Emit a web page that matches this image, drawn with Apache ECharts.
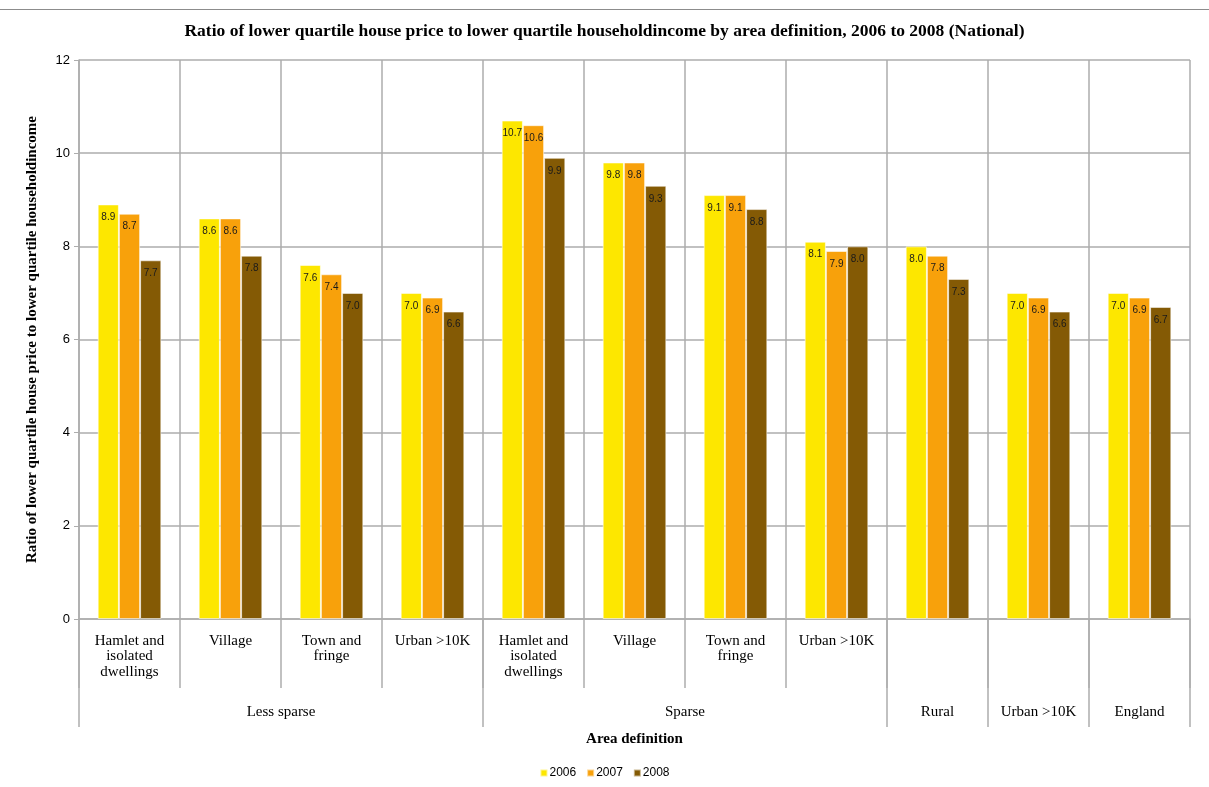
<!DOCTYPE html>
<html>
<head>
<meta charset="utf-8">
<script src="https://cdn.jsdelivr.net/npm/echarts@6/dist/echarts.min.js"></script>
<style>
  html, body { margin: 0; padding: 0; background: #fff; }
  #chart { width: 1209px; height: 787px; }
  #rule { position: absolute; left: 0; top: 9px; width: 1209px; height: 0; border-top: 1px solid #8c8c8c; }
</style>
</head>
<body>
<div id="rule"></div>
<div id="chart"></div>
<script>
// Area types (first label row) and their parent definitions (second row)
const subLabels = [
  'Hamlet and\nisolated\ndwellings', 'Village', 'Town and\nfringe', 'Urban >10K',
  'Hamlet and\nisolated\ndwellings', 'Village', 'Town and\nfringe', 'Urban >10K',
  '', '', ''
];
const groupLabels = ['Less sparse', 'Sparse', 'Rural', 'Urban >10K', 'England'];
const groupSizes = [4, 4, 1, 1, 1];

const seriesNames = ['2006', '2007', '2008'];
const values2006 = [8.9, 8.6, 7.6, 7.0, 10.7, 9.8, 9.1, 8.1, 8.0, 7.0, 7.0];
const values2007 = [8.7, 8.6, 7.4, 6.9, 10.6, 9.8, 9.1, 7.9, 7.8, 6.9, 6.9];
const values2008 = [7.7, 7.8, 7.0, 6.6, 9.9, 9.3, 8.8, 8.0, 7.3, 6.6, 6.7];
const yTicks = [0, 2, 4, 6, 8, 10, 12];

const colors = ['#FDE700', '#F8A10B', '#845A05'];
const gridColor = '#adadad';
const serif = '"Liberation Serif", "DejaVu Serif", serif';
const sans = '"Liberation Sans", Arial, sans-serif';

const chart = echarts.init(document.getElementById('chart'), null, { renderer: 'canvas' });

function barSeries(name, data, color) {
  return {
    name: name,
    type: 'bar',
    data: data,
    barGap: 0,
    barCategoryGap: '37%',
    itemStyle: { color: color, borderColor: 'rgba(255,255,255,0.55)', borderWidth: 1 },
    label: {
      show: true,
      position: 'insideTop',
      distance: 8,
      fontSize: 10,
      fontFamily: sans,
      color: '#1a1a1a',
      formatter: p => p.value.toFixed(1)
    }
  };
}

chart.setOption({
  animation: false,
  color: colors,
  title: {
    text: 'Ratio of lower quartile house price to lower quartile householdincome by area definition, 2006 to 2008 (National)',
    left: 'center',
    top: 17,
    textStyle: { fontFamily: serif, fontWeight: 'bold', fontSize: 17.5, color: '#000' }
  },
  legend: {
    bottom: 3,
    left: 'center',
    icon: 'rect',
    itemWidth: 7,
    itemHeight: 7,
    itemGap: 10,
    textStyle: { fontFamily: sans, fontSize: 12, color: '#000', padding: [0, 0, 0, -3] },
    data: seriesNames
  },
  grid: { left: 79, right: 19, top: 60, bottom: 168, containLabel: false },
  xAxis: {
    type: 'category',
    data: subLabels.map((_, i) => 'c' + i),
    boundaryGap: true,
    name: 'Area definition',
    nameLocation: 'middle',
    nameGap: 113,
    nameTextStyle: { fontFamily: serif, fontWeight: 'bold', fontSize: 15, color: '#000' },
    axisLine: { show: true, lineStyle: { color: gridColor, width: 1.5 } },
    axisTick: { show: true, interval: 0, length: 69, lineStyle: { color: gridColor, width: 1.5 } },
    axisLabel: {
      interval: 0,
      margin: 14,
      fontFamily: serif,
      fontSize: 15,
      lineHeight: 15.5,
      color: '#000',
      formatter: (v, i) => subLabels[i]
    },
    splitLine: { show: true, interval: 0, lineStyle: { color: gridColor, width: 1.5 } }
  },
  yAxis: {
    type: 'value',
    min: yTicks[0],
    max: yTicks[yTicks.length - 1],
    interval: 2,
    name: 'Ratio of lower quartile house price to lower quartile householdincome',
    nameLocation: 'middle',
    nameGap: 39,
    nameTextStyle: { fontFamily: serif, fontWeight: 'bold', fontSize: 15, color: '#000' },
    axisLine: { show: true, lineStyle: { color: gridColor, width: 1.5 } },
    axisTick: { show: true, length: 5, lineStyle: { color: gridColor } },
    axisLabel: { fontFamily: sans, fontSize: 13, color: '#000', margin: 9 },
    splitLine: { show: true, lineStyle: { color: gridColor, width: 1.5 } }
  },
  series: [
    barSeries(seriesNames[0], values2006, colors[0]),
    barSeries(seriesNames[1], values2007, colors[1]),
    barSeries(seriesNames[2], values2008, colors[2])
  ]
});

// Second label row: group dividers and names placed through the axis scales
function drawGroups() {
  const c0 = chart.convertToPixel({ xAxisIndex: 0 }, 0);
  const c1 = chart.convertToPixel({ xAxisIndex: 0 }, 1);
  const band = c1 - c0;
  const yBase = chart.convertToPixel({ yAxisIndex: 0 }, 0);
  const depth = 108;
  const elements = [];
  let start = 0;
  const edge = idx => c0 + (idx - 0.5) * band;
  elements.push({
    type: 'line', silent: true,
    shape: { x1: edge(0), y1: yBase, x2: edge(0), y2: yBase + depth },
    style: { stroke: gridColor, lineWidth: 1.5 }
  });
  groupSizes.forEach((size, g) => {
    const end = start + size;
    elements.push({
      type: 'line', silent: true,
      shape: { x1: edge(end), y1: yBase, x2: edge(end), y2: yBase + depth },
      style: { stroke: gridColor, lineWidth: 1.5 }
    });
    elements.push({
      type: 'text', silent: true,
      x: (edge(start) + edge(end)) / 2,
      y: yBase + 93,
      style: {
        text: groupLabels[g],
        fill: '#000',
        font: '15px ' + serif,
        align: 'center',
        verticalAlign: 'middle'
      }
    });
    start = end;
  });
  chart.setOption({ graphic: elements });
}
drawGroups();
</script>
</body>
</html>
